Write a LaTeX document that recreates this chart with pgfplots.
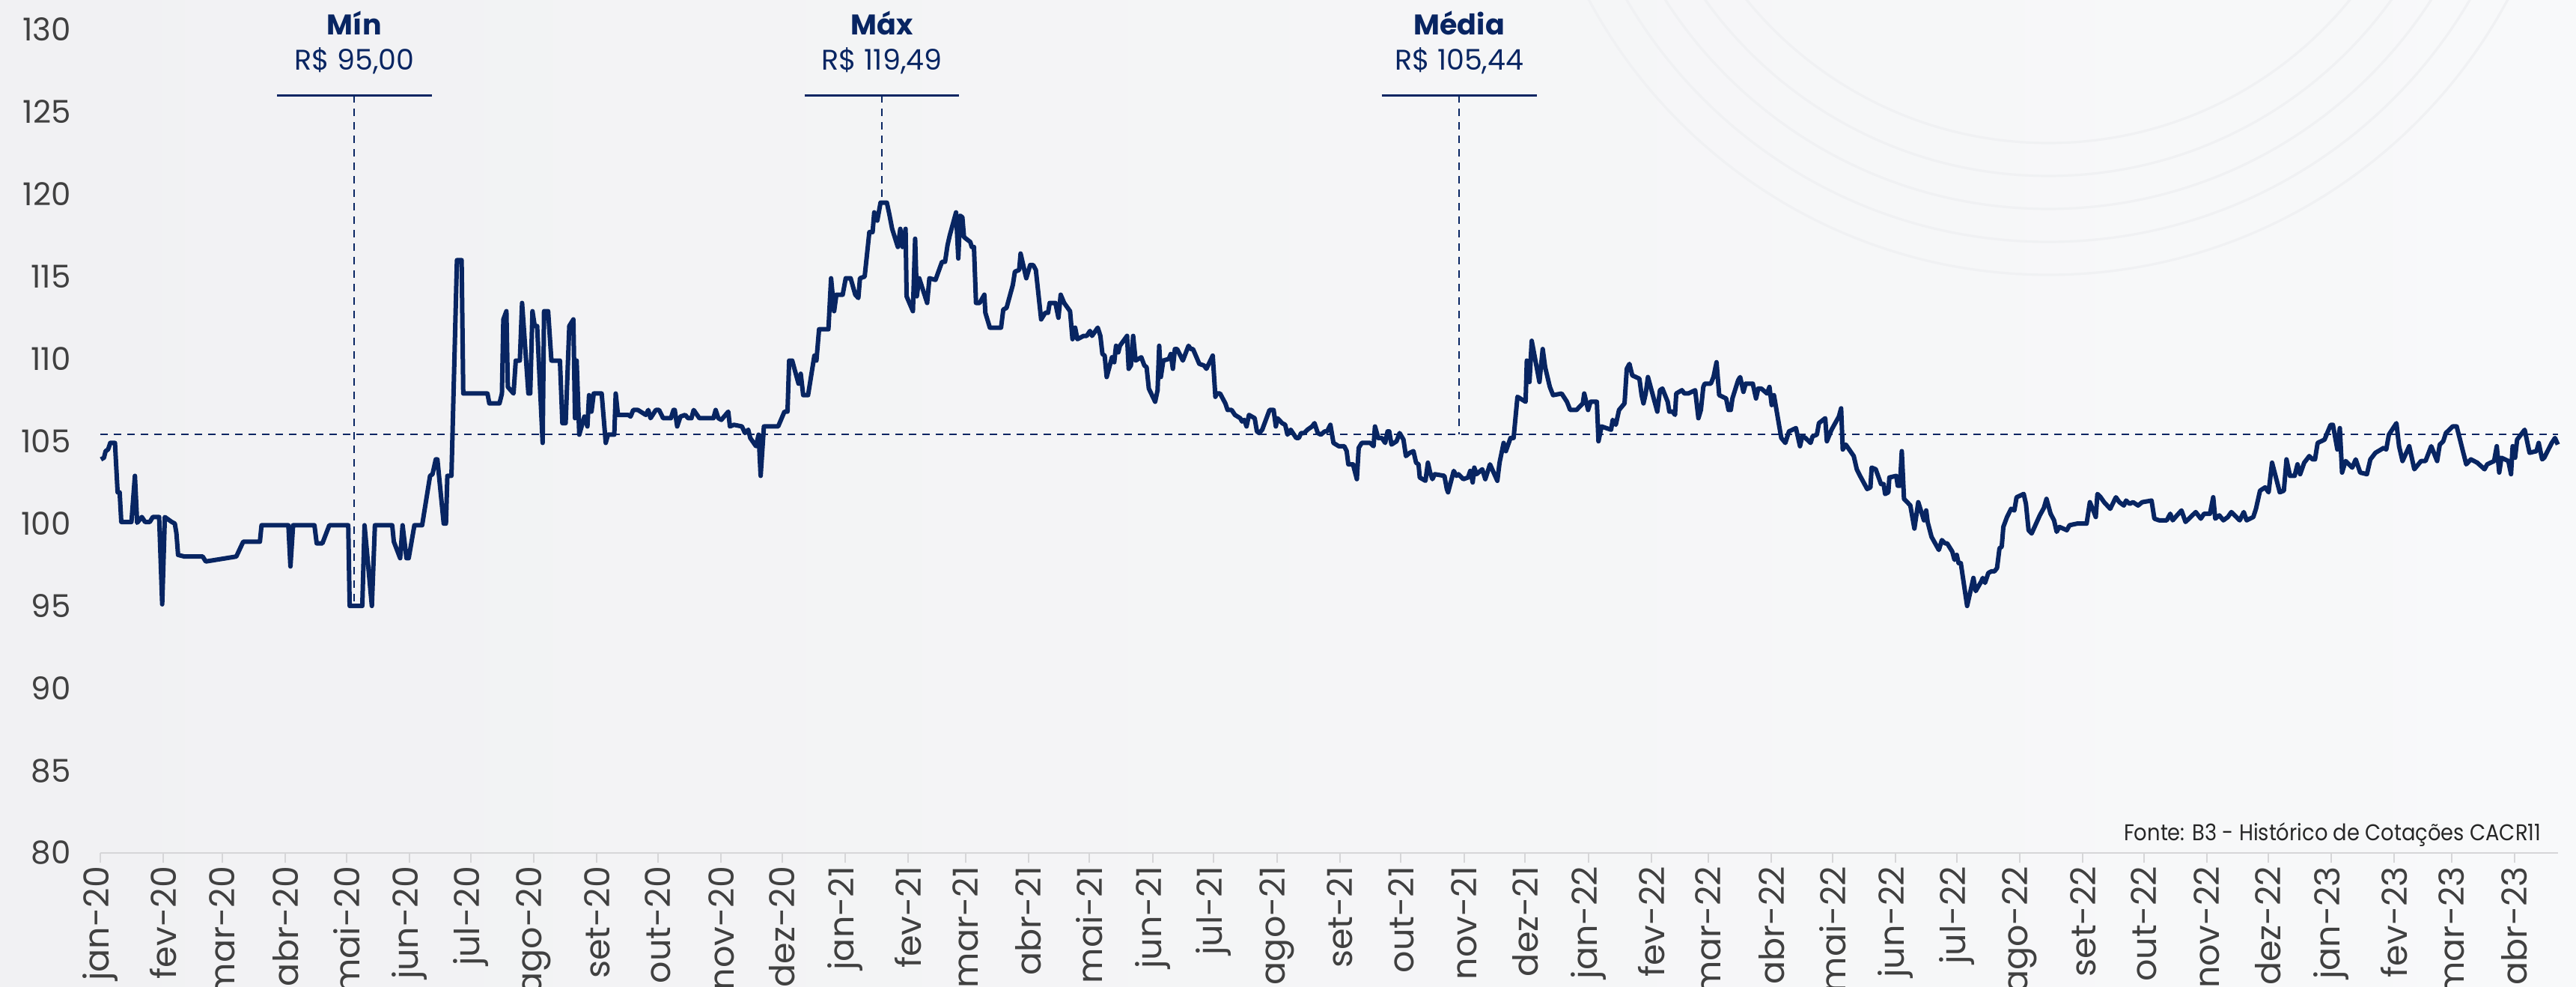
\documentclass[border=0pt]{standalone}
\usepackage{fontspec}
\setmainfont{Poppins}
\usepackage{graphicx}
\usepackage{pgfplots}
\pgfplotsset{compat=1.18}
\definecolor{navy}{RGB}{8,37,98}
\definecolor{lblgray}{RGB}{64,64,64}
\definecolor{bgL}{RGB}{241,241,243}
\definecolor{bgR}{RGB}{248,249,250}
\definecolor{axgray}{RGB}{214,214,216}
\definecolor{arcgray}{RGB}{240,241,243}
\begin{document}
\begin{tikzpicture}
\shade[left color=bgL, right color=bgR] (0pt,0pt) rectangle (860.25pt,329.5pt);
\begin{scope}
\clip (0pt,0pt) rectangle (860.25pt,329.5pt);
\foreach \r in {130,141,152,163,174}{
  \draw[arcgray, line width=0.8pt] (684pt,411.75pt) circle (\r pt);
}
\end{scope}
\begin{axis}[
  at={(33.5pt,44.75pt)}, anchor=south west,
  width=820.75pt, height=274.875pt, scale only axis,
  xmin=0, xmax=1207.4, ymin=80, ymax=130,
  clip=false,
  axis line style={draw=none},
  xtick pos=bottom, ytick pos=left,
  tick align=outside,
  major tick length=3.3pt,
  x tick style={draw=axgray, line width=0.5pt},
  y tick style={draw=none},
  ytick={80,85,...,130},
  /pgf/number format/assume math mode=true,
  yticklabel style={font=\fontsize{10.5}{12}\selectfont, text=lblgray, xshift=-3pt},
  xtick={0,31,60,91,121,152,182,213,244,274,305,335,366,397,425,456,486,517,547,578,609,639,670,700,731,762,790,821,851,882,912,943,974,1004,1035,1065,1096,1127,1155,1186},
  xticklabels={jan-20,fev-20,mar-20,abr-20,mai-20,jun-20,jul-20,ago-20,set-20,out-20,nov-20,dez-20,jan-21,fev-21,mar-21,abr-21,mai-21,jun-21,jul-21,ago-21,set-21,out-21,nov-21,dez-21,jan-22,fev-22,mar-22,abr-22,mai-22,jun-22,jul-22,ago-22,set-22,out-22,nov-22,dez-22,jan-23,fev-23,mar-23,abr-23},
  xticklabel style={rotate=90, anchor=east, font=\fontsize{11.5}{13}\selectfont, text=lblgray, inner sep=0pt, yshift=0pt, xshift=-1pt},
]
\draw[axgray, line width=0.6pt] (rel axis cs:0,0) -- (rel axis cs:1,0);
% average line
\addplot[navy, line width=0.5pt, dash pattern=on 2.5pt off 2pt, forget plot] coordinates {(0,105.44) (1207.4,105.44)};
% annotation leaders
\addplot[navy, line width=0.5pt, dash pattern=on 2.5pt off 2pt, forget plot] coordinates {(124.8,126) (124.8,95)};
\addplot[navy, line width=0.5pt, dash pattern=on 2.5pt off 2pt, forget plot] coordinates {(384,126) (384,119.49)};
\addplot[navy, line width=0.5pt, dash pattern=on 2.5pt off 2pt, forget plot] coordinates {(667.6,126) (667.6,105.44)};
\addplot[navy, line width=0.6pt, forget plot] coordinates {(86.8,126) (162.8,126)};
\addplot[navy, line width=0.6pt, forget plot] coordinates {(346,126) (422,126)};
\addplot[navy, line width=0.6pt, forget plot] coordinates {(629.6,126) (705.6,126)};
\node[font=\fontsize{9.5}{11}\selectfont\bfseries, text=navy] at (axis cs:124.8,130.4) {Mín};
\node[font=\fontsize{9.5}{11}\selectfont, text=navy] at (axis cs:124.8,128.1) {R\$ 95,00};
\node[font=\fontsize{9.5}{11}\selectfont\bfseries, text=navy] at (axis cs:384,130.4) {Máx};
\node[font=\fontsize{9.5}{11}\selectfont, text=navy] at (axis cs:384,128.1) {R\$ 119,49};
\node[font=\fontsize{9.5}{11}\selectfont\bfseries, text=navy] at (axis cs:667.6,130.4) {Média};
\node[font=\fontsize{9.5}{11}\selectfont, text=navy] at (axis cs:667.6,128.1) {R\$ 105,44};
\node[anchor=east, inner sep=0pt, font=\fontsize{7.6}{9}\selectfont, text=black!85] at (axis cs:1199.3,81.1) {\scalebox{0.9}[1]{Fonte: B3 - Histórico de Cotações CACR11}};
% price series
\addplot[navy, line width=1.5pt, line join=round] coordinates {
(0.3,103.9)(1.8,104.0)(2.6,104.4)(3.8,104.5)(4.9,104.9)(7.2,104.9)(8.5,101.9)(9.5,101.9)(10.3,100.1)(15.3,100.1)(17.0,102.9)(18.1,100.05)(20.4,100.4)(22.0,100.1)(24.3,100.1)(25.8,100.4)(28.9,100.4)(30.4,95.1)(31.7,100.4)(35.1,100.1)(36.6,100.0)(37.4,99.4)(38.2,98.1)(41.3,98.0)(50.3,98.0)(51.8,97.7)(66.8,98.0)(70.2,98.9)(78.4,98.9)(79.2,99.9)(92.4,99.9)(93.4,97.4)(94.7,99.9)(105.2,99.9)(106.3,98.8)(109.1,98.8)(112.5,99.9)(121.8,99.9)(122.5,95.0)(128.7,95.0)(129.8,99.9)(133.4,95.0)(134.9,99.9)(143.4,99.9)(144.2,98.9)(147.3,97.9)(148.5,99.9)(150.4,97.9)(151.5,97.9)(154.3,99.9)(158.1,99.9)(162.0,102.9)(163.2,103.0)(164.8,103.9)(165.6,103.9)(168.7,100.0)(169.8,100.0)(170.5,102.9)(172.5,102.9)(175.2,116.0)(177.5,116.0)(178.3,107.9)(190.2,107.9)(191.1,107.3)(196.1,107.3)(197.3,107.9)(198.0,112.4)(199.5,112.9)(200.2,108.3)(203.0,107.9)(204.1,109.9)(206.1,109.9)(207.2,113.4)(210.3,107.9)(211.2,107.9)(212.3,112.9)(213.4,112.0)(214.6,112.0)(217.3,104.9)(218.0,112.9)(220.0,112.9)(221.6,109.9)(225.8,109.9)(227.0,106.1)(228.6,106.1)(230.4,112.0)(232.4,112.4)(233.2,106.4)(234.0,109.9)(235.3,105.4)
(237.8,106.5)(239.3,105.9)(240.1,107.8)(241.3,106.8)(242.4,107.9)(246.3,107.9)(248.3,104.9)(249.4,105.4)(252.5,105.4)(253.2,107.9)(254.3,106.6)(259.4,106.6)(260.5,106.5)(261.8,106.9)(264.1,106.9)(268.0,106.6)(269.2,106.9)(270.3,106.4)(272.9,106.9)(274.5,106.9)(276.5,106.4)(280.3,106.4)(281.6,106.9)(282.2,106.9)(283.4,105.9)(285.0,106.5)(287.3,106.6)(288.8,106.4)(290.4,106.4)(291.5,106.9)(294.3,106.4)(301.2,106.4)(302.3,106.9)(303.6,106.4)(305.1,106.3)(308.5,106.8)(309.3,105.9)(311.3,106.0)(315.2,105.9)(316.7,105.5)(318.3,105.7)(319.3,105.2)(322.1,104.7)(323.4,105.4)(324.4,102.9)(326.0,105.9)(333.0,105.9)(336.1,106.8)(337.6,106.8)(338.4,109.9)(339.9,109.9)(343.0,108.5)(344.1,109.1)(345.3,107.8)(347.7,107.8)(350.8,110.2)(351.8,109.9)(353.1,111.8)(357.7,111.8)(359.0,114.9)(360.5,112.9)(361.6,113.9)(364.7,113.9)(366.2,114.9)(368.6,114.9)(370.9,113.9)(372.4,113.7)(373.2,114.9)(375.5,115.0)(377.8,117.7)(379.4,117.7)(380.2,118.9)(381.7,118.4)(383.3,119.49)(386.4,119.49)(387.6,118.8)(389.0,117.9)(391.8,116.8)(393.0,117.9)(394.1,116.8)(395.6,117.9)(396.1,113.8)(399.2,112.9)(400.3,117.3)(401.1,113.8)(402.3,114.9)(406.2,113.4)(407.3,114.9)(410.3,114.8)(413.5,115.9)(415.0,115.9)(416.2,116.9)(417.3,117.5)(420.4,118.9)(421.5,116.1)(422.4,118.7)(423.5,118.6)(424.3,117.4)(427.4,117.1)(428.1,116.8)(429.2,116.8)(430.2,113.4)(432.0,113.4)(434.3,113.9)(434.8,112.8)(437.0,111.9)(442.5,111.9)(443.6,113.0)(445.2,113.1)(448.3,114.5)(449.3,115.3)(451.4,115.4)(452.1,116.4)(454.9,114.9)(456.8,115.7)(458.3,115.7)(459.6,115.4)(462.2,112.4)(464.2,112.8)(465.6,112.8)(466.4,113.4)(469.2,113.4)(470.7,112.5)(471.8,113.9)(473.5,113.4)
(476.4,112.9)(477.6,111.2)(478.9,111.9)(480.0,111.2)(483.1,111.4)(484.6,111.4)(486.2,111.7)(487.2,111.4)(490.0,111.9)(491.3,111.4)(492.3,110.3)(493.4,110.2)(494.4,108.9)(497.0,110.1)(498.1,109.8)(499.0,110.8)(500.1,110.4)(500.9,110.8)(504.4,111.4)(505.2,109.4)(506.3,109.6)(507.4,111.4)(508.6,109.9)(511.4,110.1)(512.9,109.6)(514.0,109.5)(515.1,108.2)(518.2,107.4)(519.4,108.1)(520.2,110.8)(521.0,108.9)(522.2,109.9)(524.9,110.0)(525.9,110.3)(526.9,109.4)(527.9,110.6)(529.0,110.6)(531.8,109.9)(534.6,110.8)(535.7,110.6)(536.8,110.6)(539.9,109.7)(542.2,109.6)(543.4,109.4)(546.5,110.2)(547.8,107.7)(548.5,107.9)(550.1,107.9)(552.7,107.3)(553.8,106.9)(554.7,106.9)(555.8,106.9)(557.4,106.6)(560.0,106.4)(560.9,106.2)(562.0,106.3)(563.1,105.9)(564.3,106.6)(567.1,106.4)(568.2,105.6)(569.3,105.5)(570.8,105.7)(574.4,106.9)(576.4,106.9)(577.5,105.9)(578.3,106.4)(580.6,106.1)(582.1,106.0)(583.2,105.4)(584.8,105.7)(587.5,105.2)(588.8,105.2)(589.9,105.5)(591.4,105.5)(593.0,105.7)(595.3,105.9)(596.5,106.1)(598.1,105.5)(599.6,105.4)(601.5,105.6)(602.7,105.6)(604.3,106.0)(605.8,104.9)(608.4,104.7)(610.0,104.7)(611.1,104.7)(612.3,104.4)(613.1,103.6)(615.4,103.6)(617.3,102.7)(618.2,104.6)(619.7,104.9)(623.9,104.9)(625.5,104.7)(626.2,105.9)(627.8,105.2)(629.6,105.2)(631.2,104.9)(632.4,105.6)(633.2,105.6)(634.3,104.8)(636.8,105.0)(638.3,105.5)(640.2,105.1)(641.4,104.1)(643.3,104.3)(645.1,104.4)(646.4,103.7)(647.6,103.6)(648.2,102.8)(651.0,102.6)(652.2,103.7)(653.3,103.1)(654.4,102.7)(655.6,103.0)(660.3,102.9)(661.5,102.1)(662.1,101.9)(664.9,103.2)(666.2,102.9)(667.2,103.0)(669.6,102.7)(671.9,102.8)(673.0,103.2)(674.2,102.5)(675.0,103.4)(676.1,103.0)(678.9,103.3)(680.4,102.7)(682.7,103.6)(686.3,102.6)(687.4,103.7)(689.4,104.9)(690.5,104.4)(692.8,105.2)(694.3,105.2)(696.2,107.7)(700.2,107.4)(700.8,109.9)(702.1,108.6)(703.2,111.1)(707.0,108.6)(708.6,110.6)(709.8,109.5)(712.1,108.3)(713.7,107.8)
(717.9,107.9)(720.5,107.4)(722.1,106.9)(725.2,106.9)(728.3,107.3)(729.0,107.9)(730.9,106.9)(732.1,107.4)(735.2,107.4)(736.0,105.0)(737.5,105.9)(742.2,105.7)(743.0,106.3)(744.5,106.0)(746.1,106.9)(748.8,107.3)(749.9,109.4)(751.2,109.7)(752.6,109.0)(756.1,108.8)(757.2,107.8)(758.1,107.3)(759.2,107.9)(760.3,108.9)(764.9,106.8)(766.2,108.1)(767.4,108.2)(770.0,107.4)(770.8,106.8)(772.4,106.8)(773.6,106.6)(774.2,107.9)(777.0,108.1)(778.2,107.9)(780.1,107.9)(783.5,108.1)(785.1,106.4)(786.3,106.9)(787.5,108.3)(788.2,108.5)(791.2,108.5)(792.5,108.9)(794.0,109.8)(795.3,107.8)(798.7,107.6)(799.9,106.9)(801.0,106.9)(801.8,107.6)(804.6,108.7)(805.6,108.9)(807.2,108.0)(808.3,108.5)(811.8,108.5)(813.4,107.6)(814.5,108.2)(816.0,108.2)(818.8,107.9)(820.0,108.3)(821.1,107.2)(822.2,107.8)(825.8,105.2)(827.8,104.9)(829.6,105.6)(833.0,105.8)(835.0,104.7)(836.1,105.3)(837.7,105.2)(840.2,104.9)(841.2,105.3)(843.3,105.4)(844.3,106.1)(847.4,106.4)(848.2,105.0)(850.5,105.7)(853.2,106.3)(854.1,106.5)(855.2,107.0)(856.0,104.5)(857.5,104.8)(861.4,104.1)(862.9,103.3)(864.5,102.9)(868.0,102.1)(869.6,102.2)(870.2,103.4)(872.2,103.3)(874.8,102.4)(876.1,102.4)(876.8,101.8)(878.4,101.9)(878.9,102.8)(882.3,102.9)(883.0,102.3)(884.1,102.3)(885.0,104.4)(886.1,101.5)(887.7,101.3)(889.2,101.1)(891.2,99.7)(893.1,101.3)(895.9,100.2)(897.0,100.8)(897.7,100.1)(899.6,99.2)(903.2,98.4)(904.7,99.0)(906.3,98.8)(907.3,98.8)(909.8,98.3)(910.9,97.8)(912.0,98.1)(912.9,97.6)(914.0,97.6)(917.1,95.0)(920.2,96.7)(921.3,95.9)(924.1,96.5)(924.8,96.7)(925.9,96.4)(927.5,97.0)(929.0,97.1)(930.5,97.1)(931.8,97.3)(933.0,98.5)(934.1,98.6)(934.9,99.8)(936.7,100.4)(938.7,100.9)(940.3,100.8)(941.4,101.6)(944.9,101.8)(946.0,101.2)(947.3,99.6)(948.8,99.4)
(952.8,100.5)(954.8,100.95)(956.1,101.5)(958.1,100.6)(959.8,100.2)(961.1,99.5)(962.4,99.8)(966.1,99.6)(967.4,99.9)(971.1,100.0)(975.8,100.0)(977.4,101.3)(979.4,100.7)(980.3,100.4)(981.1,101.8)(982.7,101.6)(984.4,101.3)(987.4,100.9)(990.2,101.6)(991.9,101.3)(994.1,101.1)(995.2,101.4)(996.9,101.2)(998.6,101.3)(1001.1,101.1)(1003.1,101.3)(1007.7,101.4)(1009.1,100.3)(1011.4,100.2)(1015.2,100.2)(1016.9,100.6)(1018.1,100.2)(1020.2,100.5)(1022.4,100.8)(1024.4,100.1)(1026.9,100.4)(1029.4,100.7)(1031.9,100.3)(1033.5,100.6)(1036.4,100.6)(1038.0,101.6)(1039.0,100.3)(1041.0,100.5)(1043.0,100.2)(1045.2,100.4)(1046.9,100.7)(1049.4,100.4)(1051.0,100.2)(1053.0,100.7)(1054.4,100.2)(1057.7,100.4)(1059.0,100.9)(1061.0,102.0)(1063.5,102.2)(1065.2,101.9)(1066.9,103.7)(1070.7,101.9)(1072.7,102.0)(1074.0,103.9)(1075.7,102.9)(1078.0,102.9)(1079.4,103.6)(1080.7,103.0)(1082.7,103.7)(1085.2,104.1)(1086.8,103.9)(1088.0,103.9)(1089.3,104.9)(1092.7,105.1)(1094.0,105.5)(1095.7,106.0)(1096.8,106.0)(1099.0,104.5)(1100.2,105.8)(1101.3,103.1)(1103.0,103.8)(1106.3,103.4)(1108.0,103.9)(1110.2,103.1)(1113.5,103.0)(1115.2,103.9)(1117.7,104.3)(1121.8,104.6)(1123.0,104.5)(1124.3,105.4)(1128.0,106.1)(1129.3,104.7)(1131.0,103.8)(1134.3,104.7)(1136.8,103.3)(1140.1,103.8)(1142.3,103.8)(1145.1,104.7)(1148.0,103.8)(1149.3,104.8)(1151.0,105.0)(1152.3,105.5)(1155.6,105.9)(1157.6,105.9)(1162.3,103.6)(1164.6,103.9)(1167.7,103.7)(1171.3,103.3)(1172.6,103.6)(1176.0,103.8)(1177.3,104.7)(1178.5,103.1)(1179.6,104.0)(1183.0,103.8)(1184.3,103.0)(1185.1,104.7)(1186.3,104.0)(1187.3,105.1)(1191.0,105.7)(1193.4,104.3)(1196.8,104.4)(1197.9,104.9)(1199.6,103.9)(1200.6,104.0)(1204.3,104.9)(1205.9,105.2)(1207.3,104.8)
};
\end{axis}
\pgfresetboundingbox
\useasboundingbox (0pt,0pt) rectangle (860.25pt,329.5pt);
\end{tikzpicture}
\end{document}
